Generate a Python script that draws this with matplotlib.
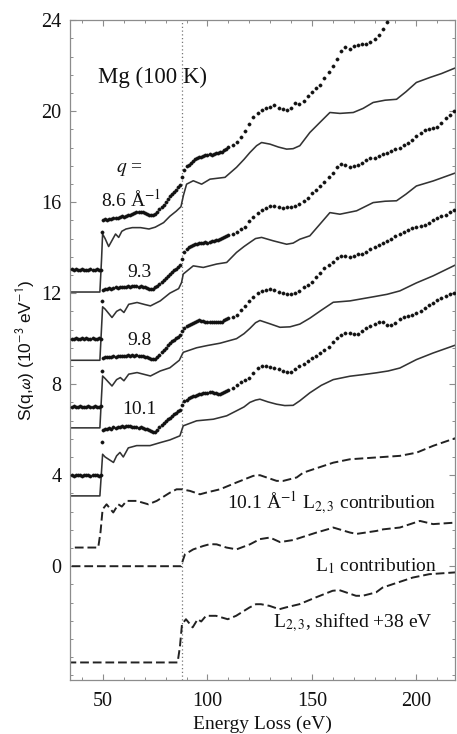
import numpy as np
import matplotlib
matplotlib.use("Agg")
import matplotlib.pyplot as plt
from matplotlib.ticker import MultipleLocator, AutoMinorLocator

plt.rcParams["font.family"] = ["Liberation Serif", "DejaVu Serif"]
plt.rcParams["mathtext.fontset"] = "stix"

# measured energy grid (eV) shared by all q
E_EXP = np.concatenate([np.arange(35, 50), [49.5], np.arange(50, 111), np.arange(112, 219, 2)])

# measured S(q,w), offset for display
EXP_86 = [13.05, 13.0, 13.05, 13.0, 13.02, 13.05, 13.0, 13.03, 13.0, 13.05, 13.02, 13.0, 13.04, 13.0, 13.02,
          14.7,
          15.2, 15.25, 15.22, 15.28, 15.25, 15.3, 15.32, 15.3, 15.35, 15.38, 15.35, 15.4, 15.42, 15.45, 15.5,
          15.52, 15.55, 15.58, 15.55, 15.55, 15.52, 15.5, 15.45, 15.42, 15.45, 15.5, 15.58, 15.68, 15.78, 15.88,
          16.0, 16.12, 16.25, 16.35, 16.45, 16.55, 16.65, 16.75, 17.1, 17.42, 17.58, 17.65, 17.72, 17.8, 17.88,
          17.95, 17.98, 18.0, 18.02, 18.05, 18.08, 18.1, 18.08, 18.12, 18.15, 18.18, 18.2, 18.22, 18.28, 18.35,
          18.42,
          18.5, 18.65, 18.88, 19.12, 19.45, 19.75, 19.9, 20.05, 20.15, 20.2, 20.25, 20.15, 20.1, 20.05, 20.15,
          20.35, 20.3, 20.45, 20.65, 20.85, 21.0, 21.15, 21.45, 21.7, 22.0, 22.3, 22.65, 22.8, 22.75, 22.85,
          22.9, 22.95, 22.95, 23.05, 23.15, 23.35, 23.6, 23.9]
EXP_93 = [10.0, 9.98, 10.02, 10.0, 9.98, 10.02, 10.0, 10.03, 9.98, 10.0, 10.02, 9.98, 10.0, 10.02, 10.0,
          11.66,
          12.15, 12.2, 12.18, 12.22, 12.2, 12.22, 12.25, 12.22, 12.25, 12.28, 12.25, 12.28, 12.3, 12.28, 12.3,
          12.32, 12.3, 12.28, 12.3, 12.27, 12.25, 12.22, 12.2, 12.18, 12.2, 12.25, 12.32, 12.4, 12.5, 12.58,
          12.65, 12.75, 12.84, 12.92, 13.0, 13.08, 13.15, 13.22, 13.5, 13.8, 13.95, 14.02, 14.08, 14.12, 14.15,
          14.18, 14.2, 14.2, 14.22, 14.23, 14.22, 14.25, 14.28, 14.3, 14.32, 14.35, 14.4, 14.42, 14.48, 14.52,
          14.55,
          14.6, 14.68, 14.8, 14.92, 15.15, 15.35, 15.52, 15.65, 15.75, 15.82, 15.85, 15.78, 15.75, 15.78, 15.8,
          15.85, 15.92, 16.05, 16.2, 16.4, 16.55, 16.7, 16.9, 17.1, 17.3, 17.55, 17.68, 17.62, 17.55, 17.6,
          17.62, 17.72, 17.85, 17.92, 17.95, 18.02, 18.1, 18.15, 18.25, 18.32, 18.4, 18.5, 18.6, 18.75, 18.9,
          19.05, 19.15, 19.2, 19.25, 19.32, 19.5, 19.7, 19.85, 20.0]
EXP_98 = [7.0, 7.02, 6.98, 7.0, 7.03, 7.0, 6.98, 7.0, 7.02, 7.0, 6.98, 7.02, 7.0, 7.0, 7.02,
          8.58,
          9.15, 9.18, 9.2, 9.18, 9.2, 9.22, 9.2, 9.22, 9.25, 9.22, 9.25, 9.25, 9.28, 9.25, 9.27,
          9.25, 9.28, 9.25, 9.22, 9.22, 9.2, 9.18, 9.15, 9.12, 9.1, 9.12, 9.2, 9.3, 9.4, 9.5,
          9.6, 9.7, 9.8, 9.88, 9.95, 10.02, 10.08, 10.15, 10.32, 10.48, 10.55, 10.6, 10.65, 10.7, 10.75,
          10.78, 10.8, 10.78, 10.76, 10.75, 10.74, 10.72, 10.73, 10.75, 10.74, 10.72, 10.72, 10.75, 10.8, 10.85,
          10.9,
          10.95, 11.02, 11.25, 11.45, 11.65, 11.85, 12.0, 12.08, 12.15, 12.18, 12.12, 12.05, 12.0, 11.98, 11.95,
          12.02, 12.1, 12.25, 12.38, 12.5, 12.72, 12.9, 13.1, 13.25, 13.38, 13.55, 13.65, 13.65, 13.6, 13.62,
          13.7, 13.72, 13.8, 13.92, 14.05, 14.12, 14.2, 14.3, 14.4, 14.5, 14.6, 14.7, 14.78, 14.85, 14.9,
          14.95, 15.0, 15.1, 15.2, 15.3, 15.38, 15.45, 15.55, 15.65]
EXP_101 = [4.0, 3.98, 4.02, 4.0, 4.02, 3.98, 4.0, 4.02, 4.0, 3.98, 4.0, 4.02, 4.0, 3.98, 4.0,
           5.46,
           6.0, 6.05, 6.02, 6.08, 6.05, 6.1, 6.08, 6.12, 6.1, 6.15, 6.12, 6.15, 6.18, 6.15, 6.12,
           6.12, 6.1, 6.08, 6.1, 6.08, 6.05, 6.02, 5.98, 5.95, 5.9, 5.88, 5.98, 6.1, 6.2, 6.3,
           6.38, 6.45, 6.52, 6.6, 6.68, 6.75, 6.8, 6.86, 7.1, 7.25, 7.32, 7.38, 7.42, 7.46, 7.5,
           7.54, 7.56, 7.58, 7.6, 7.62, 7.63, 7.64, 7.64, 7.62, 7.6, 7.58, 7.58, 7.62, 7.66, 7.7,
           7.75,
           7.85, 7.98, 8.1, 8.2, 8.28, 8.5, 8.72, 8.8, 8.82, 8.75, 8.7, 8.65, 8.6, 8.55, 8.55,
           8.68, 8.8, 8.9, 9.02, 9.15, 9.25, 9.35, 9.48, 9.65, 9.85, 10.05, 10.18, 10.25, 10.25, 10.2,
           10.22, 10.35, 10.45, 10.55, 10.65, 10.75, 10.72, 10.62, 10.58, 10.7, 10.85, 10.95, 11.0, 11.05, 11.12,
           11.2, 11.35, 11.48, 11.58, 11.68, 11.78, 11.88, 11.95, 12.02]

# calculated spectra (solid lines)
T86_X = [35, 48.5, 49.3, 49.8, 51, 52.7, 54.5, 56, 57.5, 59, 61, 64, 68, 72, 75, 79, 82, 85, 87.3, 88.5,
         90, 93.2, 97.2, 101.2, 108.4, 113.9, 117.5, 120.3, 123.5, 125.9, 129.9, 134, 137.9, 141, 144.2, 149,
         154, 158.6, 163.4, 169.8, 174.5, 179.3, 185, 190.5, 195, 200, 206.5, 212, 219.2]
T86_Y = [12.05, 12.05, 13.5, 14.6, 14.4, 14.05, 14.35, 14.6, 14.45, 14.72, 14.82, 14.88, 14.88, 14.82, 14.9,
         15.1, 15.38, 15.6, 15.8, 16.3, 16.79, 16.94, 16.79, 17.01, 17.09, 17.53, 17.88, 18.18, 18.48, 18.62,
         18.55, 18.42, 18.33, 18.35, 18.48, 19.06, 19.52, 19.94, 19.9, 19.94, 20.12, 20.38, 20.48, 20.52, 20.85,
         21.26, 21.48, 21.65, 21.92]
T93_X = [35, 48.5, 49.3, 49.8, 51, 54.3, 56.5, 58.3, 60, 62.3, 66.3, 70, 72.7, 77.4, 82, 86.2, 87.6, 88.4,
         93.2, 98, 104.4, 109.2, 113.9, 117.5, 120.3, 123, 125.9, 131.5, 137.9, 141, 144.2, 149, 154, 158.6,
         163.4, 171.4, 179.3, 185, 190.5, 195, 200, 208, 219.2]
T93_Y = [9.05, 9.05, 10.5, 11.4, 11.3, 10.93, 11.2, 11.29, 11.15, 11.51, 11.59, 11.5, 11.44, 11.66, 12.0,
         12.2, 12.47, 12.84, 13.2, 13.13, 13.28, 13.35, 13.79, 14.05, 14.23, 14.4, 14.45, 14.3, 14.15, 14.2,
         14.37, 14.52, 15.05, 15.54, 15.47, 15.62, 15.98, 16.04, 16.06, 16.35, 16.71, 16.93, 17.3]
T98_X = [35, 48.5, 49.3, 49.8, 51, 54.3, 56.5, 58.3, 60, 62.3, 66.3, 72.7, 77.4, 82, 86.5, 88.4, 94.8, 100,
         106, 113.9, 117.5, 120.3, 123, 125.1, 130, 134.7, 139.5, 144.2, 149, 154.5, 160.2, 168.2, 180, 186,
         192.1, 200, 208, 219.4]
T98_Y = [6.08, 6.08, 7.5, 8.36, 8.25, 7.92, 8.2, 8.29, 8.15, 8.44, 8.51, 8.36, 8.58, 8.72, 9.05, 9.4, 9.6,
         9.7, 9.8, 10.0, 10.22, 10.45, 10.7, 10.8, 10.65, 10.5, 10.52, 10.64, 10.9, 11.25, 11.6, 11.66, 11.85,
         11.95, 12.1, 12.45, 12.76, 13.27]
T101_X = [35, 48.5, 49.3, 49.8, 51, 55, 56.5, 58.1, 59.7, 62.1, 66.1, 72.5, 77.3, 82, 86.8, 88.4, 94.8,
          102.8, 109.2, 113.9, 117.5, 120.3, 123, 125.1, 129, 133.1, 137, 141, 144.2, 149, 154.5, 160.2, 168.2,
          174.5, 180.9, 186.5, 192.1, 200, 208, 219.4]
T101_Y = [3.09, 3.09, 4.2, 4.92, 4.8, 4.56, 4.85, 5.0, 4.8, 5.2, 5.3, 5.3, 5.43, 5.55, 5.73, 6.17, 6.39,
          6.46, 6.61, 6.83, 7.0, 7.2, 7.3, 7.34, 7.22, 7.12, 7.06, 7.07, 7.27, 7.62, 7.95, 8.2, 8.35, 8.42,
          8.5, 8.58, 8.71, 9.08, 9.37, 9.74]

# edge contributions (dashed); L2,3 is flat below its onset
L23_X = [-5, 47.7, 48.8, 49.8, 51.7, 54.9, 57.3, 59, 61.3, 66.1, 71.7, 75.7, 82, 85.2, 87.6, 91.6, 96.4,
         99.6, 106, 113.9, 121.9, 125.1, 133.1, 136.3, 142.7, 145.8, 152, 160.2, 168.2, 179.3, 192.1, 200.1,
         208, 219.4]
L23_Y = [0.82, 0.82, 1.5, 2.5, 2.72, 2.36, 2.72, 2.62, 2.87, 2.87, 2.72, 2.87, 3.23, 3.38, 3.38, 3.31, 3.16,
         3.24, 3.38, 3.68, 3.97, 4.0, 3.75, 3.75, 3.9, 4.11, 4.3, 4.55, 4.7, 4.77, 4.85, 4.99, 5.29, 5.65]
L1_X = [35, 87.5, 88.2, 89.2, 93.2, 98, 101.2, 104.4, 109.1, 113.9, 120.3, 125.1, 129.9, 134.7, 141, 152.2,
        158.6, 160.2, 168.2, 171.4, 180.9, 184.1, 192.1, 201.7, 208, 219.4]
L1_Y = [0, 0, 0.25, 0.52, 0.74, 0.89, 0.97, 0.96, 0.82, 0.74, 0.96, 1.19, 1.26, 1.06, 1.15, 1.48, 1.65, 1.7,
        1.48, 1.42, 1.55, 1.62, 1.7, 1.99, 1.85, 1.92]
SHIFT_E = 38.0
SHIFT_Y = -5.05
L1_EDGE = 88.0

Q_LABELS = ["9.3", "9.8", "10.1"]
Q_LABEL_Y = [12.9, 9.9, 6.9]

INK = "#111111"
LINE = "#333333"
AXIS = "#8c8c8c"

fig = plt.figure(figsize=(4.57, 7.34), dpi=100)
ax = fig.add_axes([0.1532, 0.0736, 0.8425, 0.899])

ax.axvline(L1_EDGE, color="#777777", linestyle=(0, (1, 2)), linewidth=0.9, zorder=1)

for ys in (EXP_86, EXP_93, EXP_98, EXP_101):
    ax.plot(E_EXP[:len(ys)], ys, linestyle="none", marker="o", markersize=2.3,
            markerfacecolor=INK, markeredgecolor=INK, markeredgewidth=0.4, zorder=3)

for tx, ty in ((T86_X, T86_Y), (T93_X, T93_Y), (T98_X, T98_Y), (T101_X, T101_Y)):
    ax.plot(tx, ty, color=LINE, linewidth=1.15, zorder=2, solid_joinstyle="round")

dash = dict(color="#222222", linewidth=1.4, dashes=(4.5, 2.0), zorder=2)
ax.plot(L23_X, L23_Y, **dash)
ax.plot(L1_X, L1_Y, **dash)
ax.plot(np.array(L23_X) + SHIFT_E, np.array(L23_Y) + SHIFT_Y, **dash)

ax.set_xlim(34.2, 218.5)
ax.set_ylim(-5, 24)
ax.xaxis.set_major_locator(MultipleLocator(50))
ax.xaxis.set_minor_locator(MultipleLocator(10))
ax.set_yticks([0, 4, 8, 12, 16, 20, 24])
ax.yaxis.set_minor_locator(AutoMinorLocator(5))

for s in ax.spines.values():
    s.set_color(AXIS)
    s.set_linewidth(0.9)
ax.tick_params(which="both", direction="in", top=True, right=True, color=AXIS,
               labelsize=14.5, labelcolor=INK)
ax.tick_params(which="major", length=4, width=0.8)
ax.tick_params(which="minor", length=2.5, width=0.7)
ax.tick_params(axis="x", pad=9)
ax.tick_params(axis="y", pad=6)

ax.set_xlabel("Energy Loss (eV)", fontsize=14, color=INK)
ax.xaxis.set_label_coords(0.5, -0.054)
ax.set_ylabel(r"S(q,$\omega$) (10$^{-3}$ eV$^{-1}$)", fontsize=12.5, color=INK,
              family=["Liberation Sans", "DejaVu Sans"], math_fontfamily="stixsans")
ax.yaxis.set_label_coords(-0.085, 0.5)

ax.text(47.6, 21.5, "Mg (100 K)", fontsize=16.5, ha="left", va="center", color=INK)
ax.text(62.4, 17.45, r"$q$ =", fontsize=14, ha="center", va="center", color=INK)
ax.text(63.4, 16.1, r"8.6 Å$^{-1}$", fontsize=14, ha="center", va="center", color=INK)
for lab, ly in zip(Q_LABELS, Q_LABEL_Y):
    ax.text(67.5, ly, lab, fontsize=14, ha="center", va="center", color=INK)

ax.text(209.8, 2.8, r"10.1 Å$^{-1}$ L$_{2,3}$ contribution", fontsize=14, ha="right", va="center", color=INK)
ax.text(209.8, 0.0, r"L$_{1}$ contribution", fontsize=14, ha="right", va="center", color=INK)
ax.text(208.0, -2.47, r"L$_{2,3}$, shifted +38 eV", fontsize=14, ha="right", va="center", color=INK)

fig.savefig("out.png", dpi=100)
